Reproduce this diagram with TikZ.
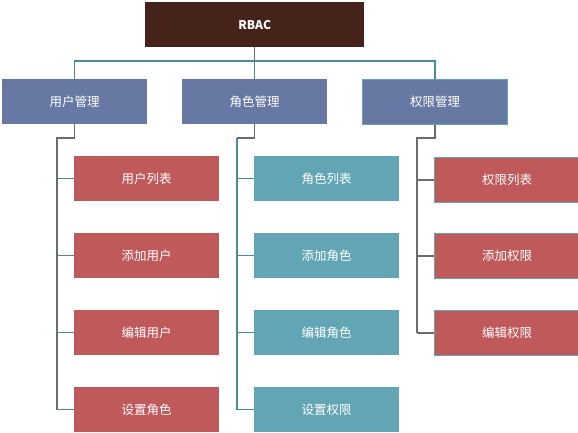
\documentclass[tikz,border=0pt]{standalone}
\usepackage{fontspec}
\setmainfont{Noto Sans CJK SC}
\definecolor{rootc}{HTML}{45221A}
\definecolor{bluec}{HTML}{6779A3}
\definecolor{redc}{HTML}{C0595A}
\definecolor{tealc}{HTML}{62A5B5}
\definecolor{linet}{HTML}{4A8C96}
\definecolor{lineg}{HTML}{6B6B6B}
\begin{document}
\begin{tikzpicture}[x=1pt,y=-1pt,
  box/.style={minimum width=145pt,minimum height=45pt,inner sep=0pt,text=white,font=\fontsize{12.5}{14}\selectfont,anchor=north west},
  rootbox/.style={box,fill=rootc,minimum width=219pt,font=\fontsize{12}{14}\selectfont\bfseries},
  lvl/.style={box,fill=bluec},
  redbox/.style={box,fill=redc},
  tealbox/.style={box,fill=tealc},
  bord/.style={draw=tealc,line width=1pt},
  bus/.style={draw=linet,line width=1.2pt},
  trunk/.style={draw=lineg,line width=1.2pt},
  stub/.style={draw=linet,line width=1.2pt}]
\useasboundingbox (0,0) rectangle (578,432);
\node[rootbox] (root) at (145,2) {RBAC};
\node[lvl] (u) at (2,79) {用户管理};
\node[lvl] (r) at (182,79) {角色管理};
\node[lvl,bord] (p) at (362,79) {权限管理};
% users
\node[redbox] (u1) at (74,156) {用户列表};
\node[redbox] (u2) at (74,233) {添加用户};
\node[redbox] (u3) at (74,310) {编辑用户};
\node[redbox] (u4) at (74,387) {设置角色};
% roles
\node[tealbox] (r1) at (254,156) {角色列表};
\node[tealbox] (r2) at (254,233) {添加角色};
\node[tealbox] (r3) at (254,310) {编辑角色};
\node[tealbox] (r4) at (254,387) {设置权限};
% perms
\node[redbox,bord] (p1) at (434,157) {权限列表};
\node[redbox,bord] (p2) at (434,233) {添加权限};
\node[redbox,bord] (p3) at (434,310) {编辑权限};
% top connectors
\coordinate (bj) at (root.south |- 0,61);
\draw[trunk] (root.south) -- (bj);
\draw[bus] (u.north) |- (bj) -| (p.north);
\draw[bus] (r.north) -- (r.north |- bj);
% users trunk
\coordinate (ut) at (57,138);
\draw[trunk] (u.south) |- (ut) -- (ut |- u4.west);
\foreach \c in {u1,u2,u3,u4}{\draw[stub] (ut |- \c.west) -- (\c.west);}
% roles trunk
\coordinate (rt) at (237,138);
\draw[trunk] (r.south) |- (rt);
\draw[stub] (rt) -- (rt |- r4.west);
\foreach \c in {r1,r2,r3,r4}{\draw[stub] (rt |- \c.west) -- (\c.west);}
% perms trunk
\coordinate (pt) at (417,138);
\draw[trunk] (p.south) |- (pt) -- (pt |- p3.west);
\foreach \c in {p1,p2,p3}{\draw[trunk] (pt |- \c.west) -- (\c.west);}
\end{tikzpicture}
\end{document}
